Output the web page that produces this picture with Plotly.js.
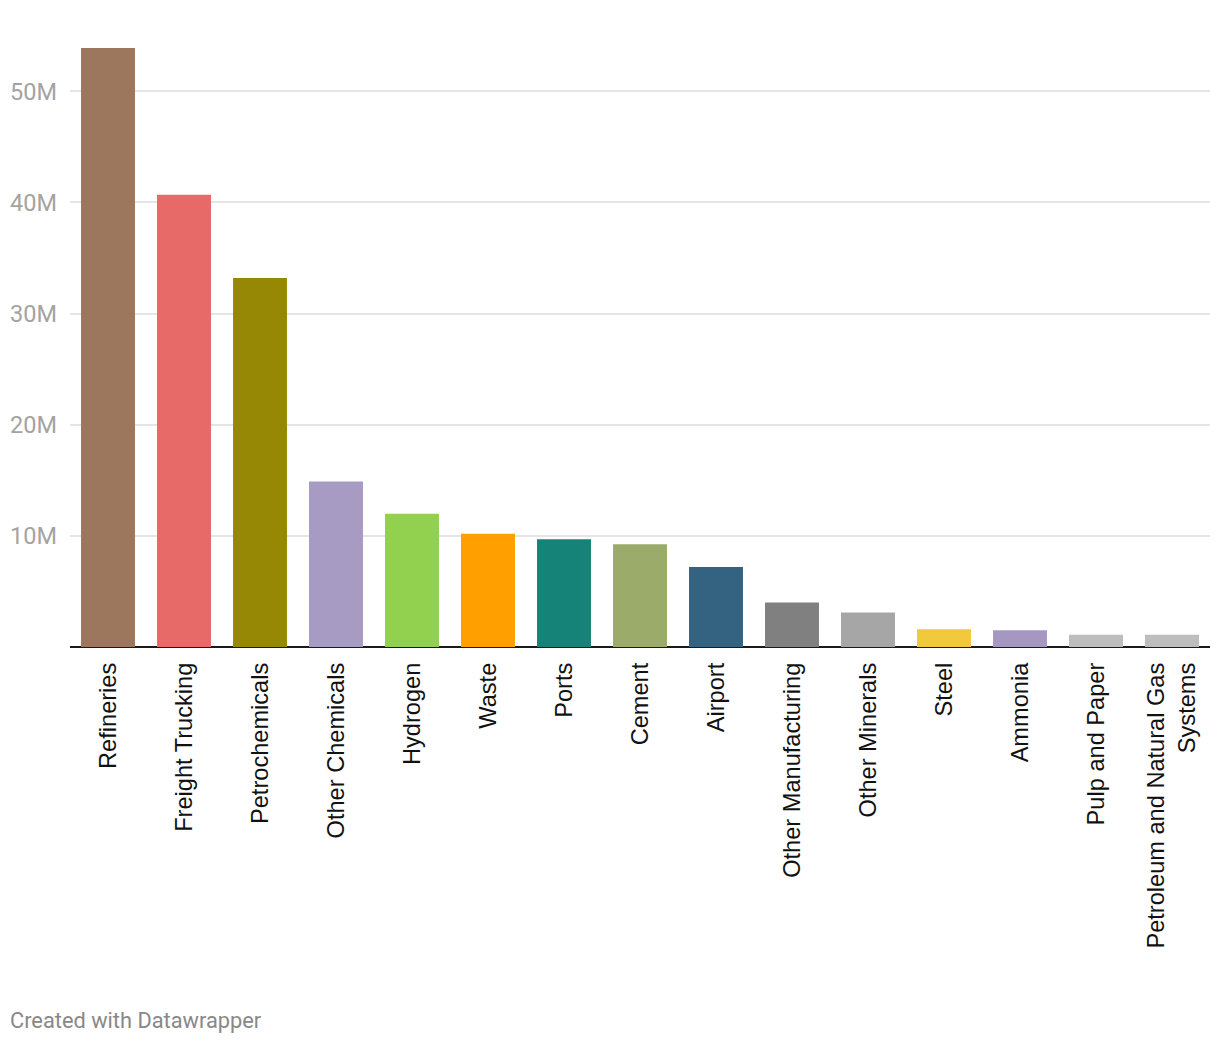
<!DOCTYPE html>
<html>
<head>
<meta charset="utf-8">
<script src="https://cdn.plot.ly/plotly-3.0.1.min.js"></script>
<style>html,body{margin:0;padding:0;background:#fff;}#chart{width:1220px;height:1044px;}</style>
</head>
<body>
<div id="chart"></div>
<script>
const categories = ["Refineries","Freight Trucking","Petrochemicals","Other Chemicals","Hydrogen","Waste","Ports","Cement","Airport","Other Manufacturing","Other Minerals","Steel","Ammonia","Pulp and Paper","Petroleum and Natural Gas<br>Systems"];
const values = [53.9e6, 40.7e6, 33.2e6, 14.9e6, 12.0e6, 10.2e6, 9.7e6, 9.25e6, 7.2e6, 4.0e6, 3.1e6, 1.6e6, 1.5e6, 1.1e6, 1.1e6];
const colors = ["#9c775e","#e76a69","#968705","#a79bc3","#92d050","#ffa000","#168379","#9bab6a","#346382","#808080","#a6a6a6","#f2c83c","#a597c1","#bdbdbd","#bdbdbd"];
const tickVals = [10e6, 20e6, 30e6, 40e6, 50e6];
const tickText = ["10M","20M","30M","40M","50M"];

const trace = {
  type: 'bar',
  x: categories,
  y: values,
  marker: {color: colors},
  hoverinfo: 'x+y'
};

const layout = {
  width: 1220,
  height: 1044,
  margin: {l: 70, r: 10, t: 38, b: 397},
  paper_bgcolor: '#fff',
  plot_bgcolor: '#fff',
  bargap: 0.29,
  showlegend: false,
  xaxis: {
    type: 'category',
    tickangle: -90,
    tickfont: {family: 'Liberation Sans, Arial, sans-serif', size: 23.6, color: '#111'},
    showgrid: false,
    showline: false,
    ticks: '',
    ticklabelstandoff: 10,
    fixedrange: true
  },
  yaxis: {
    range: [0, 54.8e6],
    tickvals: tickVals,
    ticktext: tickText,
    tickfont: {family: 'Roboto, sans-serif', size: 23.5, color: '#a3a3a3'},
    showgrid: true,
    gridcolor: '#e5e5e5',
    gridwidth: 2,
    zeroline: true,
    zerolinecolor: '#1a1a1a',
    zerolinewidth: 2,
    ticks: '',
    ticklabelstandoff: 12,
    fixedrange: true
  },
  annotations: [{
    text: 'Created with Datawrapper',
    xref: 'paper', yref: 'paper',
    x: -62/1140, y: -(1020-647)/609,
    xanchor: 'left', yanchor: 'middle',
    showarrow: false,
    font: {family: 'Roboto, sans-serif', size: 21.8, color: '#888'}
  }]
};

Plotly.newPlot('chart', [trace], layout, {displayModeBar: false, staticPlot: true});
</script>
</body>
</html>
